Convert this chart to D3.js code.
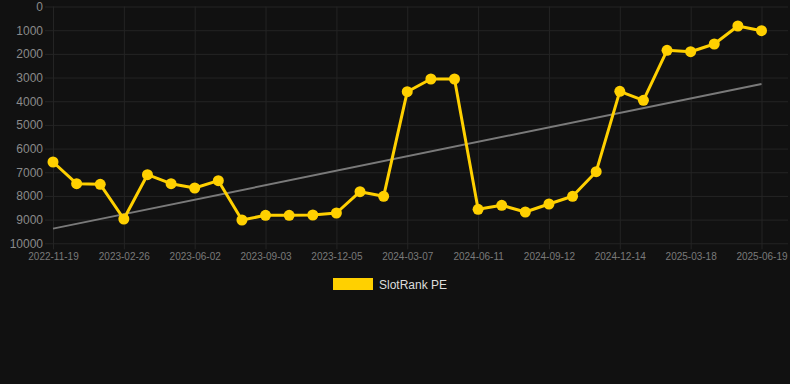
<!DOCTYPE html>
<html>
<head>
<meta charset="utf-8">
<script src="https://cdn.jsdelivr.net/npm/d3@7"></script>
<style>
  html, body { margin: 0; padding: 0; background: #111111; }
  svg { display: block; }
</style>
</head>
<body>
<svg id="chart" width="790" height="384"></svg>
<script>
const dates = [
  "2022-11-19","2022-12-21","2023-01-23","2023-02-26","2023-03-30","2023-05-01",
  "2023-06-02","2023-07-04","2023-08-02","2023-09-03","2023-10-05","2023-11-04",
  "2023-12-05","2024-01-06","2024-02-06","2024-03-07","2024-04-09","2024-05-10",
  "2024-06-11","2024-07-13","2024-08-12","2024-09-12","2024-10-14","2024-11-13",
  "2024-12-14","2025-01-15","2025-02-15","2025-03-18","2025-04-19","2025-05-19",
  "2025-06-19"
];
const rankValues = [
  6567, 7483, 7508, 8974, 7103, 7483,
  7665, 7356, 9016, 8818, 8818, 8805,
  8720, 7821, 8015, 3598, 3062, 3062,
  8564, 8395, 8678, 8340, 8015, 6976,
  3581, 3961, 1850, 1909, 1584, 823,
  1022
];
const xTickLabels = ["2022-11-19","2023-02-26","2023-06-02","2023-09-03","2023-12-05",
  "2024-03-07","2024-06-11","2024-09-12","2024-12-14","2025-03-18","2025-06-19"];
const yTickValues = [0,1000,2000,3000,4000,5000,6000,7000,8000,9000,10000];
const trendDates = ["2022-11-19","2025-06-19"];
const trendValues = [9380, 3270];
const seriesName = "SlotRank PE";

(function () {
const svg = d3.select("#chart");
const mLeft = 53, mRight = 761.5, mTop = 6.5, mBottom = 243.3;

const x = d3.scalePoint().domain(dates).range([mLeft, mRight]);
const y = d3.scaleLinear().domain([0, 10000]).range([mTop, mBottom]);

const gridColor = "#242424";

// horizontal grid + y labels
svg.append("g")
  .attr("transform", `translate(${mLeft},0)`)
  .call(d3.axisLeft(y).tickValues(yTickValues).tickSize(-(788 - mLeft)).tickPadding(10).tickFormat(d3.format("d")))
  .call(g => g.select(".domain").remove())
  .call(g => g.selectAll(".tick line").attr("stroke", gridColor).attr("x1", -8))
  .call(g => g.selectAll(".tick text")
    .attr("fill", "#8a8a8a")
    .attr("font-family", "Liberation Sans, Arial, sans-serif")
    .attr("font-size", "12px"));

// vertical grid + x labels
svg.append("g")
  .attr("transform", `translate(0,${mBottom})`)
  .call(d3.axisBottom(x).tickValues(xTickLabels).tickSize(-(mBottom - mTop)).tickPadding(10))
  .call(g => g.select(".domain").remove())
  .call(g => g.selectAll(".tick line").attr("stroke", gridColor).attr("y1", 6))
  .call(g => g.selectAll(".tick text")
    .attr("fill", "#7a7a7a")
    .attr("font-family", "Liberation Sans, Arial, sans-serif")
    .attr("font-size", "10px"));

// trend line
svg.append("path")
  .datum(trendDates.map((d, i) => [d, trendValues[i]]))
  .attr("fill", "none")
  .attr("stroke", "#7a7a7a")
  .attr("stroke-width", 2)
  .attr("d", d3.line().x(d => x(d[0])).y(d => y(d[1])));

// series
const pts = dates.map((d, i) => [d, rankValues[i]]);
svg.append("path")
  .datum(pts)
  .attr("fill", "none")
  .attr("stroke", "#ffd000")
  .attr("stroke-width", 3)
  .attr("stroke-linejoin", "round")
  .attr("d", d3.line().x(d => x(d[0])).y(d => y(d[1])));

svg.append("g").selectAll("circle")
  .data(pts)
  .join("circle")
  .attr("cx", d => x(d[0]))
  .attr("cy", d => y(d[1]))
  .attr("r", 5.5)
  .attr("fill", "#ffd000");

// legend
const lg = svg.append("g");
lg.append("rect")
  .attr("x", 333).attr("y", 278).attr("width", 40).attr("height", 12)
  .attr("fill", "#ffd000");
lg.append("text")
  .attr("x", 379).attr("y", 284.5)
  .attr("dominant-baseline", "central")
  .attr("fill", "#dddddd")
  .attr("font-family", "Liberation Sans, Arial, sans-serif")
  .attr("font-size", "12px")
  .text(seriesName);
})();
</script>
</body>
</html>
